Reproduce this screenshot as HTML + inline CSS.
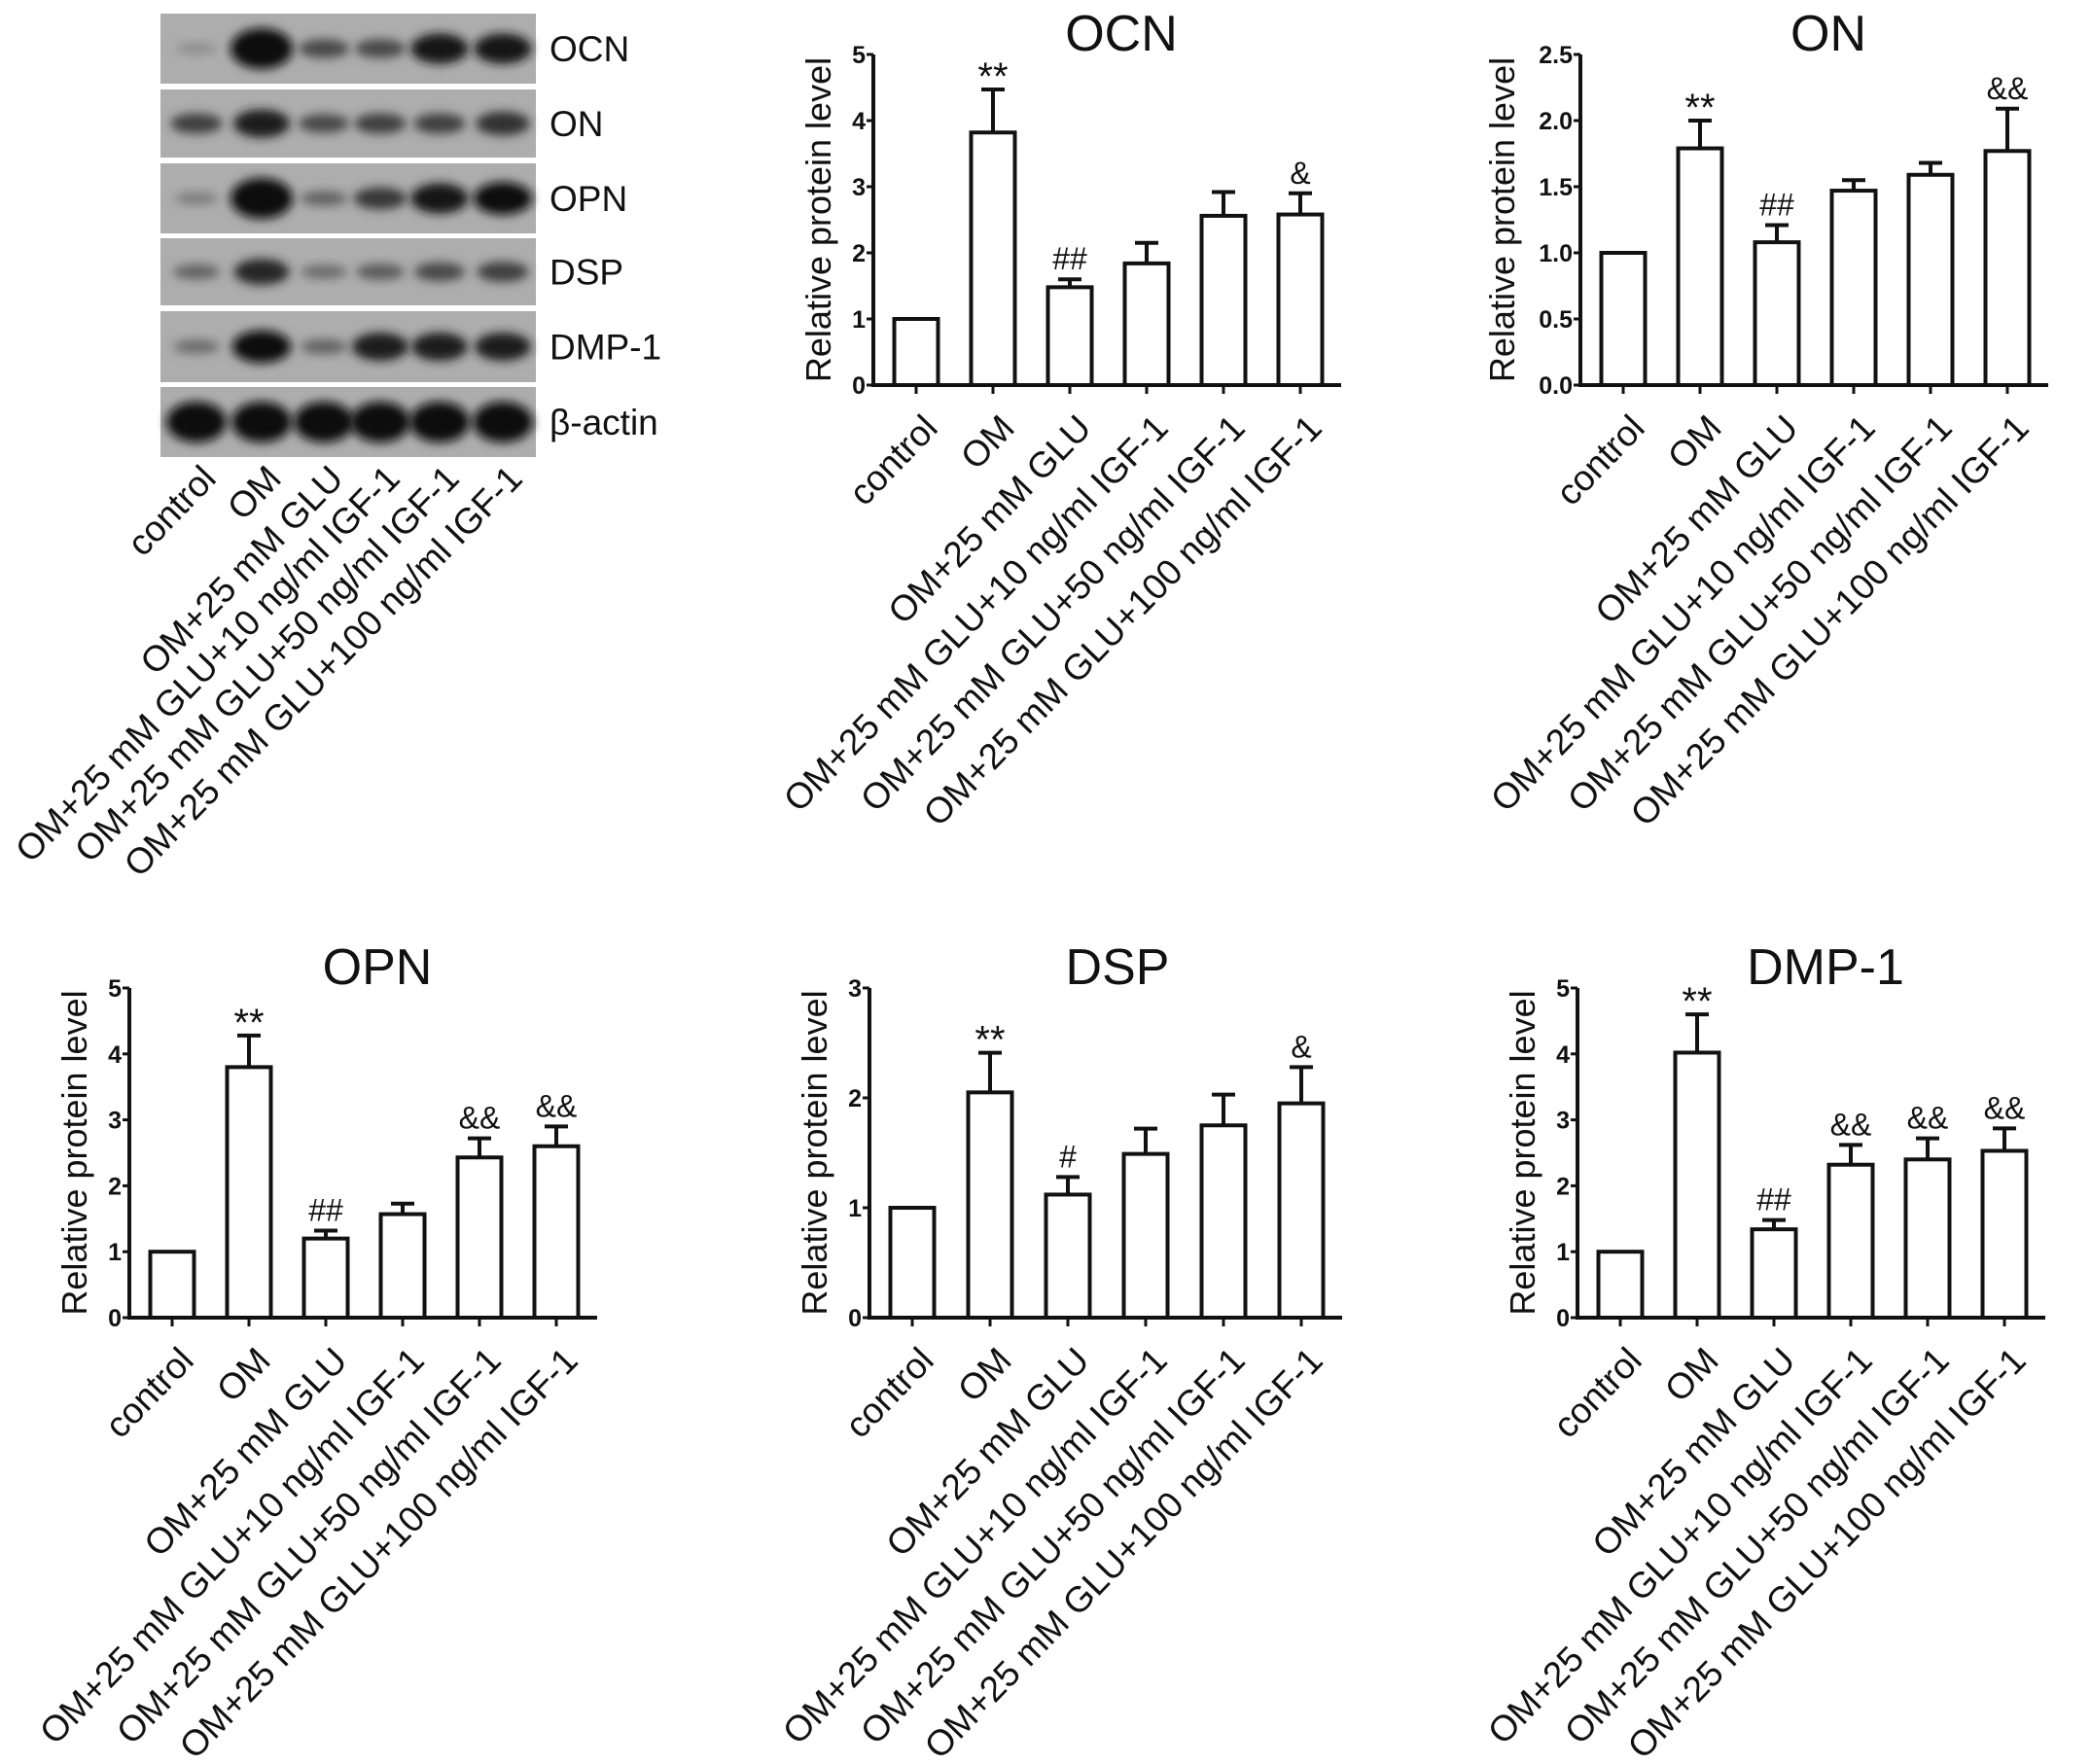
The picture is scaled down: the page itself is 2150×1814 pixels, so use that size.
<!DOCTYPE html>
<html><head><meta charset="utf-8"><style>
html,body{margin:0;padding:0;background:#fff;}
svg{display:block;font-family:"Liberation Sans",Arial,sans-serif;}
</style></head><body>
<svg id="fig" width="2150" height="1814" viewBox="0 0 2150 1814" xmlns="http://www.w3.org/2000/svg">
<defs>
<filter id="blur" x="-50%" y="-50%" width="200%" height="200%"><feGaussianBlur stdDeviation="5"/></filter>
</defs>
<g id="blot"></g>
<g id="charts"></g>
</svg>
<script>
const categories = ["control","OM","OM+25 mM GLU","OM+25 mM GLU+10 ng/ml IGF-1","OM+25 mM GLU+50 ng/ml IGF-1","OM+25 mM GLU+100 ng/ml IGF-1"];

const ocnValues = [1, 3.82, 1.48, 1.84, 2.56, 2.58];
const ocnErrTop = [1, 4.47, 1.60, 2.15, 2.92, 2.90];
const ocnMarks = ["", "**", "##", "", "", "&"];
const ocnTicks = ["0","1","2","3","4","5"];

const onValues = [1, 1.79, 1.08, 1.47, 1.59, 1.77];
const onErrTop = [1, 2.00, 1.21, 1.55, 1.68, 2.09];
const onMarks = ["", "**", "##", "", "", "&&"];
const onTicks = ["0.0","0.5","1.0","1.5","2.0","2.5"];

const opnValues = [1, 3.80, 1.20, 1.57, 2.43, 2.60];
const opnErrTop = [1, 4.28, 1.32, 1.73, 2.72, 2.90];
const opnMarks = ["", "**", "##", "", "&&", "&&"];
const opnTicks = ["0","1","2","3","4","5"];

const dspValues = [1, 2.05, 1.12, 1.49, 1.75, 1.95];
const dspErrTop = [1, 2.41, 1.28, 1.72, 2.03, 2.28];
const dspMarks = ["", "**", "#", "", "", "&"];
const dspTicks = ["0","1","2","3"];

const dmpValues = [1, 4.02, 1.34, 2.32, 2.40, 2.53];
const dmpErrTop = [1, 4.60, 1.48, 2.62, 2.72, 2.87];
const dmpMarks = ["", "**", "##", "&&", "&&", "&&"];
const dmpTicks = ["0","1","2","3","4","5"];

const blotRows = ["OCN","ON","OPN","DSP","DMP-1","β-actin"];
const blotIntensity = [
  [0.1, 1.0, 0.5, 0.5, 0.8, 0.8],
  [0.55, 0.75, 0.5, 0.55, 0.55, 0.65],
  [0.2, 1.0, 0.35, 0.6, 0.8, 0.85],
  [0.35, 0.7, 0.3, 0.4, 0.5, 0.55],
  [0.3, 0.85, 0.35, 0.75, 0.75, 0.75],
  [1, 1, 1, 1, 1, 1]
];

const NS = "http://www.w3.org/2000/svg";
function mk(tag, attrs, parent){
  const e = document.createElementNS(NS, tag);
  for (const k in attrs) e.setAttribute(k, attrs[k]);
  parent.appendChild(e);
  return e;
}

// ---------- Western blot ----------
const blot = document.getElementById('blot');
const blotX0 = 165, blotX1 = 551;
const rowTops = [14, 92, 168, 245, 320, 398];
const rowBots = [86, 162, 240, 314, 393, 470];
const laneX = [202, 269, 333, 391, 452, 517];
blotRows.forEach((name, r) => {
  const g = mk('g', {}, blot);
  
  
  const bg = mk('rect', {x: blotX0, y: rowTops[r], width: blotX1 - blotX0, height: rowBots[r] - rowTops[r], fill: '#adadad'}, g);
  
  
  const cy = (rowTops[r] + rowBots[r]) / 2;
  blotIntensity[r].forEach((v, i) => {
    const rx = r === 5 ? 31 : 20 + 12 * v;
    const ry = r === 5 ? 21 : 6 + 15 * v * v;
    const shade = Math.round(160 - 150 * Math.min(1, v * 1.15));
    const b = mk('ellipse', {cx: laneX[i], cy: cy, rx: rx, ry: ry, fill: `rgb(${shade},${shade},${shade})`, filter: 'url(#blur)'}, g);
    
    
  });
  const t = mk('text', {x: 565, y: cy + 13, 'font-size': 37, fill: '#111'}, g);
  t.textContent = name;
  
  
});
categories.forEach((c, i) => {
  const px = laneX[i] + 22, py = 494;
  const t = mk('text', {x: px, y: py, 'font-size': 37, 'text-anchor': 'end', fill: '#111', transform: `rotate(-46 ${px} ${py})`}, blot);
  t.textContent = c;
  
  
});

// ---------- Bar charts ----------
const chartsG = document.getElementById('charts');
function drawChart(cfg){
  const {title, values, errTop, marks, ticks, yMax, axisX, zeroY, topY, spacing, titleOff} = cfg;
  const g = mk('g', {}, chartsG);
  
  
  const yS = v => zeroY - (v / yMax) * (zeroY - topY);
  const xS = i => axisX + 44 + i * spacing;
  const axisEnd = axisX + 44 + 5 * spacing + 42;
  const bw = 45;

  const tt = mk('text', {x: axisX + 255, y: topY - 4, 'font-size': 52, 'text-anchor': 'middle', fill: '#111'}, g);
  tt.textContent = title;
  
  

  const ya = mk('line', {x1: axisX, y1: topY, x2: axisX, y2: zeroY + 2, stroke: '#111', 'stroke-width': 4}, g);
  
  
  ticks.forEach((lab, k) => {
    const v = yMax * k / (ticks.length - 1);
    const y = yS(v);
    const tk = mk('line', {x1: axisX - 7, y1: y, x2: axisX, y2: y, stroke: '#111', 'stroke-width': 3}, g);
    
    
    const tl = mk('text', {x: axisX - 8, y: y + 9, 'font-size': 25, 'font-weight': 'bold', 'text-anchor': 'end', fill: '#111'}, g);
    tl.textContent = lab;
    
    
  });
  const yt = mk('text', {x: 0, y: 0, 'font-size': 36, 'text-anchor': 'middle', fill: '#111', transform: `translate(${axisX - titleOff} ${(zeroY + topY) / 2}) rotate(-90)`}, g);
  yt.textContent = 'Relative protein level';
  
  

  const xa = mk('line', {x1: axisX - 2, y1: zeroY, x2: axisEnd, y2: zeroY, stroke: '#111', 'stroke-width': 4}, g);
  
  

  values.forEach((v, i) => {
    const cx = xS(i);
    const et = yS(errTop[i]);
    if (errTop[i] > v) {
      const el = mk('line', {x1: cx, y1: yS(v), x2: cx, y2: et, stroke: '#111', 'stroke-width': 4}, g);
      
      
      const ec = mk('line', {x1: cx - 12, y1: et, x2: cx + 12, y2: et, stroke: '#111', 'stroke-width': 4}, g);
      
      
    }
    const bar = mk('rect', {x: cx - bw / 2, y: yS(v), width: bw, height: zeroY - yS(v), fill: '#fff', stroke: '#111', 'stroke-width': 4}, g);
    
    
    const xt = mk('line', {x1: cx, y1: zeroY, x2: cx, y2: zeroY + 9, stroke: '#111', 'stroke-width': 3}, g);
    
    
    if (marks[i]) {
      const isStar = marks[i] === '**';
      const mt = mk('text', {x: cx, y: et - (isStar ? 0 : 10), 'font-size': isStar ? 40 : 32, 'text-anchor': 'middle', fill: '#111'}, g);
      mt.textContent = marks[i];
      
      
    }
    const px = cx + 24, py = zeroY + 46;
    const xl = mk('text', {x: px, y: py, 'font-size': 37, 'text-anchor': 'end', fill: '#111', transform: `rotate(-46 ${px} ${py})`}, g);
    xl.textContent = categories[i];
    
    
  });
}

drawChart({title: 'OCN', values: ocnValues, errTop: ocnErrTop, marks: ocnMarks, ticks: ocnTicks, yMax: 5, axisX: 898, zeroY: 396, topY: 56, spacing: 79, titleOff: 44});
drawChart({title: 'ON', values: onValues, errTop: onErrTop, marks: onMarks, ticks: onTicks, yMax: 2.5, axisX: 1625, zeroY: 396, topY: 56, spacing: 79, titleOff: 68});
drawChart({title: 'OPN', values: opnValues, errTop: opnErrTop, marks: opnMarks, ticks: opnTicks, yMax: 5, axisX: 133, zeroY: 1355, topY: 1016, spacing: 79, titleOff: 44});
drawChart({title: 'DSP', values: dspValues, errTop: dspErrTop, marks: dspMarks, ticks: dspTicks, yMax: 3, axisX: 894, zeroY: 1355, topY: 1016, spacing: 80, titleOff: 44});
drawChart({title: 'DMP-1', values: dmpValues, errTop: dmpErrTop, marks: dmpMarks, ticks: dmpTicks, yMax: 5, axisX: 1622, zeroY: 1355, topY: 1016, spacing: 79, titleOff: 44});
</script>
</body></html>
